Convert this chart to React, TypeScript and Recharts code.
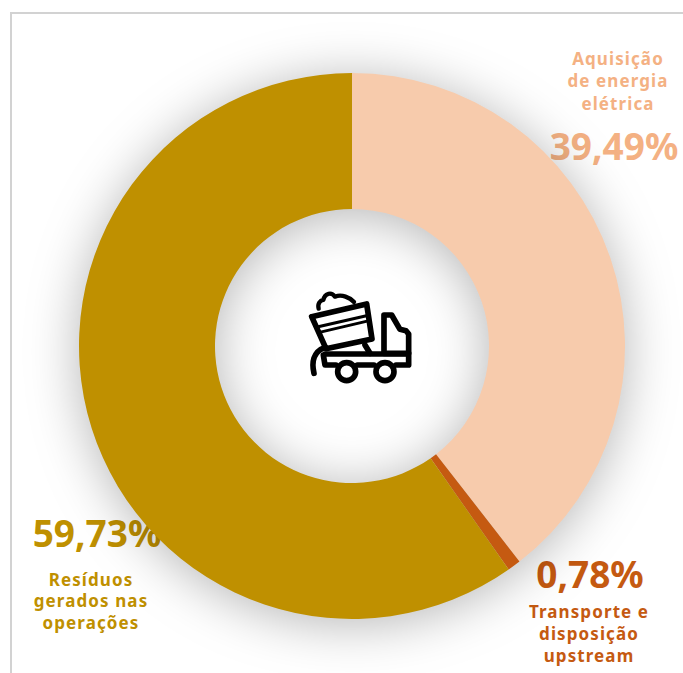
import React from "react";
import { PieChart, Pie, Cell } from "recharts";

const categories = ["Aquisição de energia elétrica", "Transporte e disposição upstream", "Resíduos gerados nas operações"];
const shares = [39.49, 0.78, 59.73];
const sliceColors = ["#F7CBAC", "#C55A11", "#BF9000"];
const labelColors = ["#F4B183", "#C55A11", "#BF9000"];
const nameLines = [
  ["Aquisição", "de energia", "elétrica"],
  ["Transporte e", "disposição", "upstream"],
  ["Resíduos", "gerados nas", "operações"],
];

const chartData = categories.map((name, i) => ({ name, value: shares[i] }));
const FONT = "'Noto Sans', sans-serif";
const CX = 352;
const CY = 346;
const INNER_R = 137;
const OUTER_R = 273;

// Where each caption sits: centre x, baselines of the name lines, baseline of the percentage.
const captionLayout = [
  { nameX: 618, nameY: [65, 87, 110], pctX: 614, pctY: 160 },
  { nameX: 589, nameY: [618, 640, 662], pctX: 590, pctY: 588 },
  { nameX: 91, nameY: [586, 607, 629], pctX: 97, pctY: 547 },
];

const formatShare = (v: number) => v.toFixed(2).replace(".", ",") + "%";

// Tipper truck pictogram in the hole of the ring.
function TruckIcon() {
  return (
    <g
      transform="translate(270 270) scale(0.3333)"
      fill="none"
      stroke="#000"
      strokeWidth={17}
      strokeLinejoin="round"
      strokeLinecap="round"
    >
      <path d="M125 140 L290 102 L306 207 L168 236 Z" />
      <path d="M138 172 L296 136 M145 188 L298 152" strokeWidth={9} />
      <path d="M146 116 C142 100 150 92 160 90 C165 68 185 66 195 80 C215 72 240 82 252 96" strokeWidth={13} />
      <path d="M342 180 L342 135 L365 135 L390 178 L408 182 L416 192 L416 250 L342 250 Z" />
      <path d="M165 252 L416 252 M416 250 L416 285 L378 285 M312 285 L262 285 M198 285 L165 285 L160 255" />
      <path d="M285 225 L300 250" />
      <path d="M132 310 C125 280 128 245 165 232" />
      <circle cx={230} cy={305} r={27} />
      <circle cx={345} cy={305} r={27} />
    </g>
  );
}

export default function App() {
  return (
    <div style={{ position: "absolute", left: 0, top: 0, width: 683, height: 673, overflow: "hidden", background: "#fff" }}>
      <style>{`.recharts-pie { filter: drop-shadow(0 5px 26px rgba(0,0,0,0.29)); }`}</style>
      <div
        style={{
          position: "absolute",
          left: 10,
          top: 12,
          width: 673,
          height: 661,
          borderLeft: "2px solid #d2d2d2",
          borderTop: "2px solid #d2d2d2",
          boxSizing: "border-box",
        }}
      />
      <div style={{ position: "absolute", left: 0, top: 0 }}>
        <PieChart width={683} height={673} margin={{ top: 0, right: 0, bottom: 0, left: 0 }}>
          <Pie
            data={chartData}
            dataKey="value"
            nameKey="name"
            cx={CX}
            cy={CY}
            innerRadius={INNER_R}
            outerRadius={OUTER_R}
            startAngle={90}
            endAngle={-270}
            stroke="none"
            isAnimationActive={false}
          >
            {chartData.map((d, i) => (
              <Cell key={d.name} fill={sliceColors[i]} />
            ))}
          </Pie>
          {/* The shadow reads lighter inside the ring than outside it. */}
          <circle cx={CX} cy={CY} r={INNER_R - 0.5} fill="#fff" fillOpacity={0.6} />
          <TruckIcon />
          {chartData.map((d, i) => (
            <g key={d.name} fontFamily={FONT} fontWeight={700} fill={labelColors[i]} textAnchor="middle">
              {nameLines[i].map((line, j) => (
                <text key={line} x={captionLayout[i].nameX} y={captionLayout[i].nameY[j]} fontSize={17} letterSpacing={1.1}>
                  {line}
                </text>
              ))}
              <text x={captionLayout[i].pctX} y={captionLayout[i].pctY} fontSize={37}>
                {formatShare(d.value)}
              </text>
            </g>
          ))}
        </PieChart>
      </div>
    </div>
  );
}
